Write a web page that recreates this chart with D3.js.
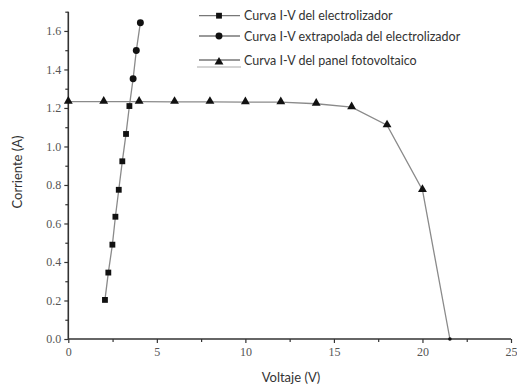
<!DOCTYPE html>
<html><head><meta charset="utf-8">
<script src="https://cdn.jsdelivr.net/npm/d3@7"></script>
<style>body{margin:0;background:#fff}svg{display:block}</style>
</head><body>
<script>
const elecV = [2.07, 2.26, 2.49, 2.66, 2.85, 3.05, 3.26, 3.45];
const elecI = [0.203, 0.345, 0.49, 0.635, 0.775, 0.923, 1.065, 1.21];
const extrapV = [3.45, 3.66, 3.84, 4.07];
const extrapI = [1.21, 1.352, 1.498, 1.643];
const pvV = [0, 2, 4, 6, 8, 10, 12, 14, 16, 18, 20, 21.55];
const pvI = [1.233, 1.233, 1.233, 1.232, 1.232, 1.23, 1.23, 1.222, 1.204, 1.11, 0.774, 0];
const xTicks = [0, 5, 10, 15, 20, 25];
const yTicks = [0.0, 0.2, 0.4, 0.6, 0.8, 1.0, 1.2, 1.4, 1.6];
const legendLabels = ["Curva I-V del electrolizador", "Curva I-V extrapolada del electrolizador", "Curva I-V del panel fotovoltaico"];

const W = 517, H = 387;
const svg = d3.select("body").append("svg").attr("width", W).attr("height", H);
const x = d3.scaleLinear().domain([0, 25]).range([68.3, 511]);
const y = d3.scaleLinear().domain([0, 1.7]).range([339, 11.7]);

const axisCol = "#333";
const tickCol = "#555";
const gx = svg.append("g").attr("transform", `translate(0,${y(0)})`)
  .call(d3.axisBottom(x).tickValues(xTicks).tickFormat(d3.format("d")).tickSize(4).tickPadding(4));
svg.append("g").attr("transform", `translate(0,${y(0)})`)
  .call(d3.axisBottom(x).tickValues([2.5, 7.5, 12.5, 17.5, 22.5]).tickFormat("").tickSize(3))
  .call(g => g.select(".domain").remove());
const gy = svg.append("g").attr("transform", `translate(${x(0)},0)`)
  .call(d3.axisLeft(y).tickValues(yTicks).tickFormat(d3.format(".1f")).tickSize(4).tickPadding(3));
svg.append("g").attr("transform", `translate(${x(0)},0)`)
  .call(d3.axisLeft(y).tickValues([0.1, 0.3, 0.5, 0.7, 0.9, 1.1, 1.3, 1.5, 1.7]).tickFormat("").tickSize(3))
  .call(g => g.select(".domain").remove());
svg.selectAll(".domain").attr("stroke", axisCol).attr("stroke-width", 1.6);
svg.selectAll(".tick line").attr("stroke", axisCol).attr("stroke-width", 1.2);
svg.selectAll(".tick text").attr("fill", tickCol).style("font-family", "'Liberation Serif', serif").style("font-size", "12px");
gy.select(".domain").attr("d", `M0,${y(1.7)}V${y(0)}`);
gx.select(".domain").attr("d", `M${x(0)},0H${x(25)}`);

const lineCol = "#8a8a8a";
const line = d3.line().x(d => x(d[0])).y(d => y(d[1]));
const pv = pvV.map((v, i) => [v, pvI[i]]);
const el = elecV.map((v, i) => [v, elecI[i]]);
const ex = extrapV.map((v, i) => [v, extrapI[i]]);

svg.append("path").attr("d", line(pv)).attr("fill", "none").attr("stroke", lineCol).attr("stroke-width", 1.3);
svg.append("path").attr("d", line(el)).attr("fill", "none").attr("stroke", lineCol).attr("stroke-width", 1.3);
svg.append("path").attr("d", line(ex)).attr("fill", "none").attr("stroke", lineCol).attr("stroke-width", 1.3);

const tri = d3.symbol().type(d3.symbolTriangle).size(34);
const sq = d3.symbol().type(d3.symbolSquare).size(34);
const ci = d3.symbol().type(d3.symbolCircle).size(38);

svg.selectAll(".pvm").data(pv.slice(0, -1)).join("path")
  .attr("d", tri).attr("transform", d => `translate(${x(d[0])},${y(d[1]) - 0.5})`).attr("fill", "#111");
svg.append("circle").attr("cx", x(pv[pv.length - 1][0])).attr("cy", y(0)).attr("r", 1.8).attr("fill", "#111");
svg.selectAll(".elm").data(el).join("path")
  .attr("d", sq).attr("transform", d => `translate(${x(d[0])},${y(d[1])})`).attr("fill", "#111");
svg.selectAll(".exm").data(ex.slice(1)).join("path")
  .attr("d", ci).attr("transform", d => `translate(${x(d[0])},${y(d[1])})`).attr("fill", "#111");

const lg = svg.append("g");
const rows = [15.7, 36, 60];
const syms = [sq, ci, tri];
rows.forEach((ry, i) => {
  lg.append("line").attr("x1", 199).attr("x2", 240).attr("y1", ry).attr("y2", ry).attr("stroke", "#777").attr("stroke-width", 1.3);
  lg.append("path").attr("d", syms[i]).attr("transform", `translate(219,${ry + (i === 2 ? 2 : 0)})`).attr("fill", "#111");
  lg.append("text").attr("x", 244).attr("y", ry + 4.5).text(legendLabels[i])
    .attr("fill", "#333").style("font-family", "Lato, sans-serif").style("font-size", "12.5px");
});
lg.append("line").attr("x1", 197).attr("x2", 241).attr("y1", 67).attr("y2", 67).attr("stroke", "#aaa").attr("stroke-width", 1);

svg.append("text").attr("x", 291).attr("y", 382).attr("text-anchor", "middle").text("Voltaje (V)")
  .attr("fill", "#333").style("font-family", "Lato, sans-serif").style("font-size", "13px");
svg.append("text").attr("transform", "translate(22,172) rotate(-90)").attr("text-anchor", "middle").text("Corriente (A)")
  .attr("fill", "#333").style("font-family", "Lato, sans-serif").style("font-size", "13px");
</script>
</body></html>
